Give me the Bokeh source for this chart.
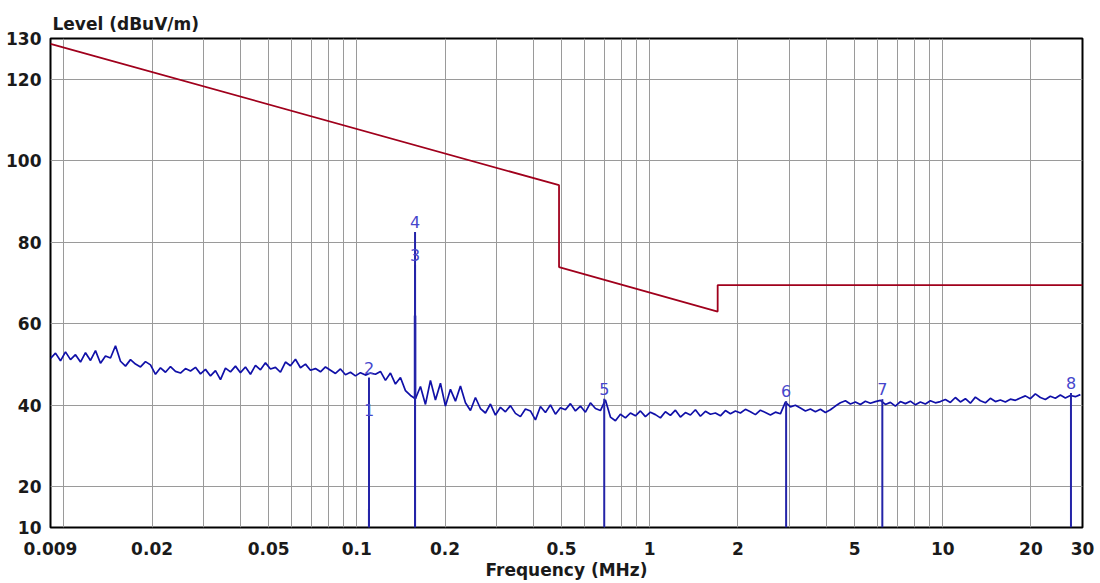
import numpy as np
from bokeh.plotting import figure
from bokeh.models import FixedTicker, Range1d, CustomJSTickFormatter
from bokeh.embed import file_html
from bokeh.resources import INLINE
from bokeh.core.properties import value

# ---- data -------------------------------------------------------------
# measured emission trace (dBuV/m), sweep 0.009 .. 29.5 MHz, log-spaced points
trace_levels = [
    51.5, 52.8, 50.9, 53.1, 51.2, 52.4, 50.6, 52.9, 51.0, 53.4, 50.3, 52.1, 51.6, 54.6,
    50.8, 49.6, 51.2, 50.1, 49.4, 50.7, 49.9,
    47.6, 49.2, 48.1, 49.5, 48.3, 47.9, 49.0, 48.4, 49.3, 47.7, 48.8, 47.2, 48.5,
    46.3, 49.1, 48.2, 49.6, 48.0, 49.4, 47.6, 49.8, 48.7, 50.4, 48.9, 49.3, 48.1, 50.6,
    49.7, 51.3, 49.2, 50.1, 48.6,
    49.0, 48.2, 49.4, 48.6, 47.8, 48.9, 47.5, 48.1, 47.2, 48.0, 47.4, 47.9,
    47.6, 48.3, 46.1, 47.9, 45.2, 46.8, 43.6, 42.4,
    41.6,
    44.6, 40.2, 46.1, 41.3, 45.4, 39.8, 43.9, 41.0, 44.7,
    40.6, 38.7, 41.9, 39.2, 38.1, 40.3, 37.6, 39.5, 38.4, 39.9, 38.0, 37.2, 39.1, 38.6,
    36.4, 39.7, 38.2, 40.1, 37.8, 39.4,
    38.9, 40.4, 38.6, 39.8, 38.3, 40.6, 39.2, 38.7, 41.3,
    37.1, 36.2, 37.8, 36.9,
    38.1, 37.4, 38.6, 37.2, 38.3, 37.7, 36.9, 38.4, 37.5, 38.8, 37.1, 38.2, 37.6, 38.9,
    37.3, 38.5, 37.8, 38.1, 37.4, 38.7, 37.9,
    38.6, 38.1, 39.0, 38.4, 37.7, 38.8, 38.2, 37.6, 38.3, 37.9, 40.8,
    39.6, 40.0, 39.3, 38.6, 39.1, 38.4, 39.0, 38.2, 38.9, 39.8,
    40.6, 41.1, 40.3, 40.8, 40.2, 41.0, 40.5, 40.9, 41.2,
    40.2, 40.7, 39.8, 40.9, 40.4, 41.0, 40.1, 40.8, 40.3, 41.1, 40.6, 40.9,
    41.4, 40.7, 41.9, 40.8, 41.6, 40.5, 42.0, 41.1, 40.6, 41.7, 40.9, 41.3, 40.8, 41.5, 41.2,
    41.8, 42.3, 41.6, 42.8, 41.9, 41.4, 42.2, 41.7, 42.5, 41.8, 42.4, 42.1, 42.6,
]
sweep_start, sweep_stop = 0.009, 29.5
trace_freq = np.geomspace(sweep_start, sweep_stop, len(trace_levels))

# narrow carrier spike in the trace
spike_freq = [0.158]
spike_low = [41.6]
spike_high = [62.0]

# limit line
limit_freq = [0.009, 0.49, 0.49, 1.705, 1.705, 30.0]
limit_level = [128.7, 94.0, 73.9, 63.0, 69.5, 69.5]

# markers
marker_label = ["1", "2", "3", "4", "5", "6", "7", "8"]
marker_freq = [0.110, 0.110, 0.158, 0.158, 0.699, 2.92, 6.22, 27.4]
marker_level = [36.5, 46.8, 74.5, 82.5, 41.6, 41.0, 41.5, 43.0]

# axes
x_min, x_max = 0.009, 30.0
y_min, y_max = 10, 130
x_grid = [0.009, 0.01, 0.02, 0.03, 0.04, 0.05, 0.06, 0.07, 0.08, 0.09,
          0.1, 0.2, 0.3, 0.4, 0.5, 0.6, 0.7, 0.8, 0.9,
          1, 2, 3, 4, 5, 6, 7, 8, 9, 10, 20, 30]
x_shown = [0.009, 0.02, 0.05, 0.1, 0.2, 0.5, 1, 2, 5, 10, 20, 30]
x_text = ["0.009", "0.02", "0.05", "0.1", "0.2", "0.5", "1", "2", "5", "10", "20", "30"]
y_ticks = [10, 20, 40, 60, 80, 100, 120, 130]

# ---- figure -----------------------------------------------------------
p = figure(width=1100, height=583, x_axis_type="log",
           x_range=Range1d(x_min, x_max), y_range=Range1d(y_min, y_max),
           output_backend="svg", toolbar_location=None,
           min_border_left=50, min_border_right=18,
           min_border_top=38, min_border_bottom=56)
p.background_fill_color = "white"
p.border_fill_color = "white"
p.outline_line_color = "black"
p.outline_line_width = 2

p.title.text = "Level (dBuV/m)"
p.title.align = "left"
p.title.text_font = "DejaVu Sans"
p.title.text_font_size = "17px"
p.title.text_font_style = "bold"
p.title.text_color = "#1a1a1a"
p.title.standoff = 9
p.title.offset = 2

p.xaxis.ticker = FixedTicker(ticks=x_grid, minor_ticks=[])
p.xaxis.formatter = CustomJSTickFormatter(
    args=dict(shown=x_shown, text=x_text),
    code="const i = shown.indexOf(tick); return i >= 0 ? text[i] : '';")
p.yaxis.ticker = FixedTicker(ticks=y_ticks, minor_ticks=[])
p.xaxis.axis_label = "Frequency (MHz)"

for ax in (p.xaxis, p.yaxis):
    ax.axis_line_color = None
    ax.major_tick_line_color = None
    ax.minor_tick_line_color = None
    ax.major_label_text_font = "DejaVu Sans"
    ax.major_label_text_font_size = "17px"
    ax.major_label_text_font_style = "bold"
    ax.major_label_text_color = "#1a1a1a"
p.yaxis.major_label_standoff = 3
p.xaxis.major_label_standoff = 8
p.xaxis.axis_label_standoff = 2
p.xaxis.axis_label_text_font = "DejaVu Sans"
p.xaxis.axis_label_text_font_size = "17px"
p.xaxis.axis_label_text_font_style = "bold"
p.xaxis.axis_label_text_color = "#1a1a1a"

p.xgrid.grid_line_color = "#9a9a9a"
p.ygrid.grid_line_color = "#9a9a9a"
p.xgrid.grid_line_width = 1
p.ygrid.grid_line_width = 1

# emission trace
p.line(trace_freq, trace_levels, line_color="#1010a8", line_width=1.7)
p.segment(x0=spike_freq, y0=spike_low, x1=spike_freq, y1=spike_high,
          line_color="#1010a8", line_width=2.5)

# limit line
p.line(limit_freq, limit_level, line_color="#a0001c", line_width=1.8)

# marker lines
p.segment(x0=marker_freq, y0=[y_min] * len(marker_freq),
          x1=marker_freq, y1=marker_level,
          line_color="#2424a8", line_width=2)

# marker labels
p.text(x=marker_freq, y=marker_level, text=marker_label,
       text_align="center", text_baseline="bottom", y_offset=-4,
       text_font=value("DejaVu Sans"), text_font_size="16px",
       text_color="#4646cc")

open("out.html", "w").write(file_html(p, INLINE))
